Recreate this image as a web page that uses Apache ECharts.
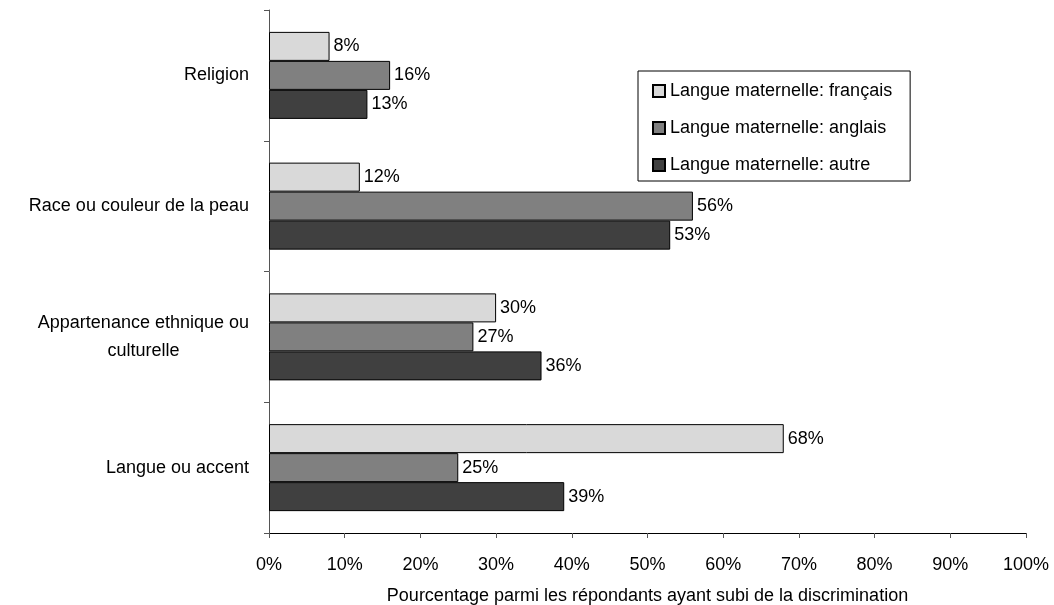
<!DOCTYPE html>
<html>
<head>
<meta charset="utf-8">
<script src="https://cdn.jsdelivr.net/npm/echarts@6/dist/echarts.min.js"></script>
<style>html,body{margin:0;padding:0;background:#fff;}#c{width:1054px;height:605px;}</style>
</head>
<body>
<div id="c"></div>
<script>
var categories = ['Religion', 'Race ou couleur de la peau', 'Appartenance ethnique ou\nculturelle', 'Langue ou accent'];
var seriesNames = ['Langue maternelle: français', 'Langue maternelle: anglais', 'Langue maternelle: autre'];
var francais = [8, 12, 30, 68];
var anglais = [16, 56, 27, 25];
var autre = [13, 53, 36, 39];
var xTicks = [0, 10, 20, 30, 40, 50, 60, 70, 80, 90, 100];
var xName = 'Pourcentage parmi les répondants ayant subi de la discrimination';

var FONT = '"Liberation Sans", Arial, sans-serif';
var FS = 18;
var colors = ['#d9d9d9', '#808080', '#404040'];
var values = [francais, anglais, autre];

var chart = echarts.init(document.getElementById('c'), null, {renderer: 'canvas'});
var series = seriesNames.map(function (n, i) {
  return {
    name: n, type: 'bar', data: values[i], barWidth: 29, barGap: '0%',
    itemStyle: {color: colors[i], borderColor: '#000', borderWidth: 1},
    label: {show: true, position: 'right', distance: 4, formatter: '{c}%', color: '#000', fontFamily: FONT, fontSize: FS},
    emphasis: {disabled: true}, animation: false
  };
});
chart.setOption({
  animation: false,
  textStyle: {fontFamily: FONT},
  grid: {left: 269, right: 28, top: 10, bottom: 72, containLabel: false, outerBoundsMode: 'none'},
  legend: {
    orient: 'vertical', left: 638, top: 71,
    backgroundColor: '#fff', borderColor: '#000', borderWidth: 1, borderRadius: 0,
    padding: [11, 18, 7, 14], itemGap: 19, itemWidth: 12, itemHeight: 12,
    icon: 'rect', data: seriesNames,
    textStyle: {fontFamily: FONT, fontSize: FS, color: '#000'}
  },
  xAxis: {
    type: 'value', min: xTicks[0], max: xTicks[xTicks.length - 1], interval: 10,
    name: xName, nameLocation: 'middle', nameGap: 54,
    nameTextStyle: {fontFamily: FONT, fontSize: FS, color: '#000'},
    axisLine: {show: true, lineStyle: {color: '#000', width: 1}},
    axisTick: {show: true, length: 5, lineStyle: {color: '#555'}},
    axisLabel: {formatter: '{value}%', margin: 23, fontFamily: FONT, fontSize: FS, color: '#000'},
    splitLine: {show: false}
  },
  yAxis: {
    type: 'category', inverse: true, data: categories,
    axisLine: {show: true, lineStyle: {color: '#555', width: 1}},
    axisTick: {show: true, length: 5, lineStyle: {color: '#555'}},
    axisLabel: {
      margin: 20, fontFamily: FONT, fontSize: FS, color: '#000', lineHeight: 28,
      formatter: function (v) {
        return v.split('\n').map(function (s) { return '{c|' + s + '}'; }).join('\n');
      },
      rich: {c: {align: 'center', fontFamily: FONT, fontSize: FS, color: '#000', lineHeight: 28}}
    }
  },
  series: series
});
</script>
</body>
</html>
